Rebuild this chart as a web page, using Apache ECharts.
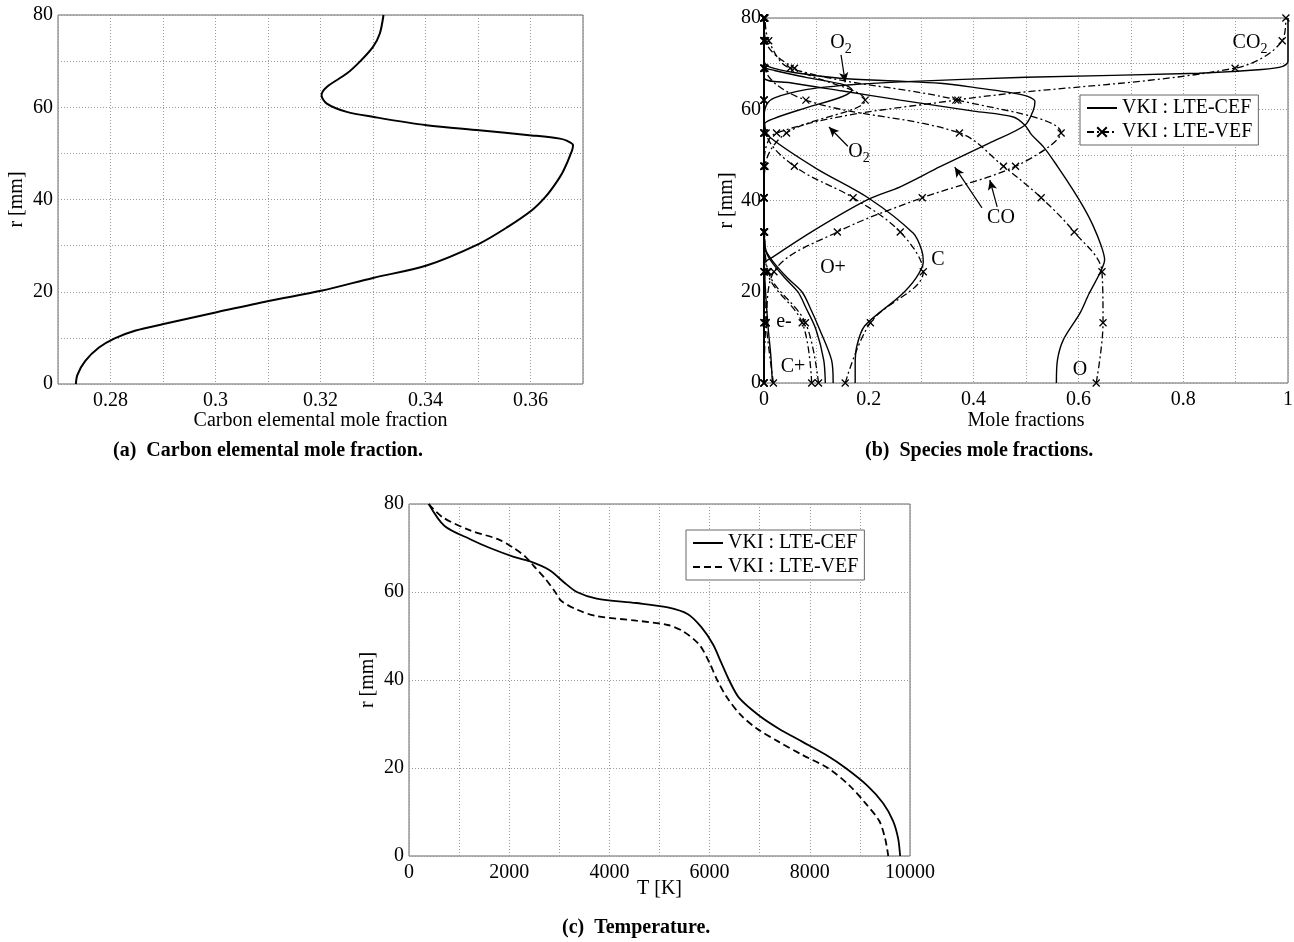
<!DOCTYPE html>
<html>
<head>
<meta charset="utf-8">
<script src="https://cdn.jsdelivr.net/npm/echarts@6/dist/echarts.min.js"></script>
<style>
  body { margin: 0; background: #fff; }
  .panel { position: absolute; }
</style>
</head>
<body>
<div id="chartA" class="panel" style="left:0;top:0;width:647px;height:470px"></div>
<div id="chartB" class="panel" style="left:647px;top:0;width:647px;height:470px"></div>
<div id="chartC" class="panel" style="left:300px;top:470px;width:700px;height:472px"></div>
<script>
// ---- (a) carbon elemental mole fraction vs radius
const radiusA = [0, 2, 5, 7.9, 9.9, 11.6, 13, 15.5, 18, 20.2, 23, 25.7, 30.4, 34, 37.6, 40.5, 43.5, 46.3, 50.6,
  51.8, 52.7, 53.2, 53.9, 55, 56.1, 57.9, 59, 60.8, 62.6, 64.4, 67.3, 69.9, 73.1, 76, 80];
const carbonFrac = [0.2734, 0.2737, 0.2752, 0.2778, 0.2808, 0.2848, 0.2901, 0.3, 0.3101, 0.3201, 0.330, 0.3402,
  0.3502, 0.3556, 0.3602, 0.3628, 0.3648, 0.3663, 0.3679, 0.3681, 0.3670, 0.3656, 0.3602, 0.3502, 0.3402,
  0.3301, 0.325, 0.3212, 0.3202, 0.3212, 0.325, 0.3275, 0.330, 0.3313, 0.332];

// ---- (b) species mole fractions, LTE-CEF (solid), pairs of [fraction, r]
const co2CEF = [[0,0],[0,58],[0.005,61],[0.02,62.5],[0.08,64.3],[0.16,65.3],[0.26,66],[0.5,67],[0.83,67.9],[0.95,68.7],[0.99,69.4],[1,70.5],[1,80]];
const coCEF = [[0,0],[0,26],[0.018,27.7],[0.1,33.8],[0.196,40.1],[0.26,43],[0.336,47.4],[0.43,52.6],[0.498,56.5],[0.514,59.8],[0.517,61.7],[0.495,63.1],[0.393,64.9],[0.336,65.7],[0.25,66.2],[0.145,66.8],[0.06,68],[0.01,69.3],[0,70.5],[0,80]];
const o2CEF = [[0,0],[0,56.5],[0.02,58],[0.08,60.3],[0.15,62.8],[0.168,64.2],[0.155,65.3],[0.08,67],[0.02,68.5],[0,69.5],[0,80]];
const oCEF = [[0.558,0],[0.56,5],[0.571,9.4],[0.603,15.3],[0.62,19.5],[0.641,24.1],[0.65,27],[0.644,29.9],[0.628,34.5],[0.61,38.5],[0.59,42.3],[0.56,47.5],[0.533,51.8],[0.51,54.5],[0.498,56.5],[0.476,58.3],[0.4,59.6],[0.26,62],[0.15,64],[0.05,65.8],[0,67],[0,80]];
const cCEF = [[0.174,0],[0.174,4],[0.177,8],[0.192,12.5],[0.26,19.1],[0.29,23],[0.304,26.5],[0.301,29.1],[0.285,32.8],[0.2,40.5],[0.1,47],[0.013,53.7],[0,56],[0,80]];
const oplusCEF = [[0.117,0],[0.114,5],[0.099,11.8],[0.08,16.5],[0.065,19.9],[0.04,23],[0.015,26.5],[0.003,29],[0,32],[0,80]];
const elecCEF = [[0.132,0],[0.129,5],[0.106,11.8],[0.088,16.5],[0.073,19.9],[0.045,23],[0.018,26.5],[0.004,29],[0,32],[0,80]];
const cplusCEF = [[0.016,0],[0.013,6],[0.008,12],[0.003,20],[0,28],[0,80]];

// ---- (b) LTE-VEF (dash-dot with markers), sampled at these radii
const radiusVEF = [0, 13.2, 24.4, 33.1, 40.6, 47.5, 54.8, 62, 69, 75, 80];
const co2VEF   = [0, 0, 0, 0, 0, 0, 0.024, 0.366, 0.899, 0.989, 0.996];
const coVEF    = [0, 0.004, 0.019, 0.14, 0.302, 0.48, 0.567, 0.37, 0.05, 0.009, 0.002];
const o2VEF    = [0, 0, 0, 0, 0, 0.002, 0.043, 0.193, 0.058, 0.003, 0];
const oVEF     = [0.634, 0.647, 0.645, 0.592, 0.529, 0.457, 0.373, 0.08, 0.002, 0, 0];
const cVEF     = [0.155, 0.203, 0.304, 0.26, 0.17, 0.058, 0.004, 0, 0, 0, 0];
const oplusVEF = [0.091, 0.073, 0.006, 0.001, 0, 0, 0, 0, 0, 0, 0];
const elecVEF  = [0.104, 0.079, 0.008, 0.001, 0, 0, 0, 0, 0, 0, 0];
const cplusVEF = [0.018, 0.004, 0.001, 0, 0, 0, 0, 0, 0, 0, 0];

// annotation arrows in (b), [fraction, r]
const arrowFrom = [[0.147, 71.9], [0.160, 51.9], [0.416, 38.4], [0.445, 38.6]];
const arrowTo   = [[0.155, 65.9], [0.124, 56.1], [0.364, 47.3], [0.431, 44.5]];

// ---- (c) temperature
const radiusCEF_T = [80, 75, 72, 70, 68, 67, 65, 62, 60, 58.5, 57.5, 56.5, 55, 52, 48, 44, 40, 36, 32, 29, 26, 23, 20, 16, 12, 8, 4, 0];
const tempCEF = [394, 710, 1222, 1617, 2090, 2405, 2800, 3115, 3350, 3745, 4535, 5165, 5560, 5836, 6072, 6230, 6388, 6585, 6980, 7374, 7847, 8320, 8714, 9148, 9464, 9661, 9763, 9803];
const radiusVEF_T = [80, 77, 74, 72, 70, 68, 66, 63, 60, 58, 56, 54.5, 53.5, 52.5, 51, 48, 44, 40, 36, 32, 29, 26, 23, 20, 16, 12, 8, 4, 0];
const tempVEF = [394, 670, 1222, 1774, 2090, 2326, 2484, 2721, 2918, 3036, 3352, 3746, 4535, 5165, 5481, 5796, 5994, 6151, 6348, 6625, 6940, 7374, 7847, 8360, 8793, 9109, 9385, 9503, 9566];

const FONT = 'Liberation Serif';
const CEF_NAME = 'VKI : LTE-CEF';
const VEF_NAME = 'VKI : LTE-VEF';
const CROSS = 'path://M0,0L10,10M10,0L0,10';

function axis(min, max, interval, formatter, name, nameGap, margin) {
  return {
    type: 'value', min, max, interval,
    axisLine: { show: false },
    axisTick: { show: false },
    splitLine: { show: true, lineStyle: { color: '#9a9a9a', width: 1, type: [1, 2] } },
    axisLabel: { color: '#000', fontFamily: FONT, fontSize: 20, margin, formatter, hideOverlap: false },
    name, nameLocation: 'middle', nameGap, nameMoveOverlap: false,
    nameTextStyle: { color: '#000', fontFamily: FONT, fontSize: 20 }
  };
}

function caption(tag, text, left, top) {
  return {
    text: '{a|' + tag + '}  {b|' + text + '}',
    left, top, padding: 0,
    textStyle: {
      rich: {
        a: { fontFamily: FONT, fontSize: 20, color: '#000' },
        b: { fontFamily: FONT, fontSize: 20, fontWeight: 'bold', color: '#000' }
      }
    }
  };
}

function legendBox(left, top) {
  return {
    // hide the default dot that line series put in their legend icon (CEF has no markers)
    data: [{ name: CEF_NAME, itemStyle: { opacity: 0 } }, VEF_NAME],
    orient: 'vertical', left, top,
    itemWidth: 30, itemHeight: 12, itemGap: 4, padding: [3, 6],
    borderColor: '#666', borderWidth: 1, backgroundColor: '#fff',
    textStyle: { fontFamily: FONT, fontSize: 20, color: '#000' }
  };
}

const gridStyle = { show: true, borderColor: '#666', borderWidth: 1, backgroundColor: 'transparent',
  containLabel: false, outerBoundsMode: 'none' };
const everyOther = (step) => (v) => (Math.round(v / step) % 2 === 0 ? String(+v.toFixed(4)) : '');

// ---------------- chart A
const chartA = echarts.init(document.getElementById('chartA'));
chartA.setOption({
  animation: false,
  title: caption('(a)', 'Carbon elemental mole fraction.', 113, 441),
  grid: Object.assign({ left: 58, top: 15, width: 525, height: 369 }, gridStyle),
  xAxis: axis(0.27, 0.37, 0.01, everyOther(0.01), 'Carbon elemental mole fraction', 27, 7),
  yAxis: Object.assign(axis(0, 80, 10, everyOther(10), 'r [mm]', 31, 5), { nameRotate: 90 }),
  series: [{
    type: 'line', smooth: 0.3, symbol: 'none', clip: false,
    data: radiusA.map((r, i) => [carbonFrac[i], r]),
    lineStyle: { color: '#000', width: 2 }
  }]
});

// ---------------- chart B
const cefSets = [co2CEF, coCEF, o2CEF, oCEF, cCEF, oplusCEF, elecCEF, cplusCEF];
const vefSets = [co2VEF, coVEF, o2VEF, oVEF, cVEF, oplusVEF, elecVEF, cplusVEF];
const seriesB = [];
cefSets.forEach((pts) => seriesB.push({
  name: CEF_NAME, type: 'line', smooth: 0.3, symbol: 'none', clip: false, data: pts,
  lineStyle: { color: '#000', width: 1.4 }, itemStyle: { color: '#000' }
}));
vefSets.forEach((vals) => seriesB.push({
  name: VEF_NAME, type: 'line', smooth: 0.35, clip: false,
  symbol: CROSS, symbolSize: 7,
  data: radiusVEF.map((r, i) => [vals[i], r]),
  lineStyle: { color: '#000', width: 1.3, type: [7, 3, 2, 3] },
  itemStyle: { color: '#000', borderColor: '#000', borderWidth: 1.3 }
}));
seriesB.push({
  name: 'arrows', type: 'line', data: [], symbol: 'none',
  markLine: {
    silent: true, animation: false,
    symbol: ['none', 'arrow'], symbolSize: [7, 10],
    label: { show: false },
    lineStyle: { color: '#000', width: 1.2, type: 'solid' },
    data: arrowFrom.map((p, i) => [{ coord: p }, { coord: arrowTo[i] }])
  }
});

const labelsB = [
  ['O{s|2}', 194, 43], ['O{s|2}', 212, 152], ['CO', 354, 218], ['CO{s|2}', 603, 43],
  ['C', 291, 260], ['O+', 186, 268], ['e-', 137, 322], ['C+', 146, 367], ['O', 433, 370]
];

const chartB = echarts.init(document.getElementById('chartB'));
chartB.setOption({
  animation: false,
  title: caption('(b)', 'Species mole fractions.', 218, 441),
  grid: Object.assign({ left: 117, top: 18, width: 524, height: 365 }, gridStyle),
  xAxis: axis(0, 1, 0.1, everyOther(0.1), 'Mole fractions', 28, 7),
  yAxis: Object.assign(axis(0, 80, 10, everyOther(10), 'r [mm]', 27, 3), { nameRotate: 90 }),
  legend: legendBox(433, 95),
  graphic: labelsB.map(([t, x, y]) => ({
    type: 'text', x, y, z: 100,
    style: {
      text: t, fill: '#000', font: '20px "' + FONT + '"', align: 'center', verticalAlign: 'middle',
      rich: { s: { fontFamily: FONT, fontSize: 14, padding: [12, 0, 0, 0], fill: '#000' } }
    }
  })),
  series: seriesB
});

// ---------------- chart C
const chartC = echarts.init(document.getElementById('chartC'));
chartC.setOption({
  animation: false,
  title: caption('(c)', 'Temperature.', 262, 448),
  grid: Object.assign({ left: 109, top: 34, width: 501, height: 352 }, gridStyle),
  xAxis: axis(0, 10000, 1000, (v) => (v % 2000 === 0 ? String(v) : ''), 'T [K]', 23, 7),
  yAxis: Object.assign(axis(0, 80, 20, (v) => String(v), 'r [mm]', 31, 5), { nameRotate: 90 }),
  legend: Object.assign(legendBox(386, 60), {
    data: [{ name: CEF_NAME, itemStyle: { opacity: 0 } }, { name: VEF_NAME, itemStyle: { opacity: 0 } }]
  }),
  series: [{
    name: CEF_NAME, type: 'line', smooth: 0.3, symbol: 'none', clip: false,
    data: radiusCEF_T.map((r, i) => [tempCEF[i], r]),
    lineStyle: { color: '#000', width: 1.8 }, itemStyle: { color: '#000' }
  }, {
    name: VEF_NAME, type: 'line', smooth: 0.3, symbol: 'none', clip: false,
    data: radiusVEF_T.map((r, i) => [tempVEF[i], r]),
    lineStyle: { color: '#000', width: 1.8, type: [7, 4] }, itemStyle: { color: '#000' }
  }]
});
</script>
</body>
</html>
